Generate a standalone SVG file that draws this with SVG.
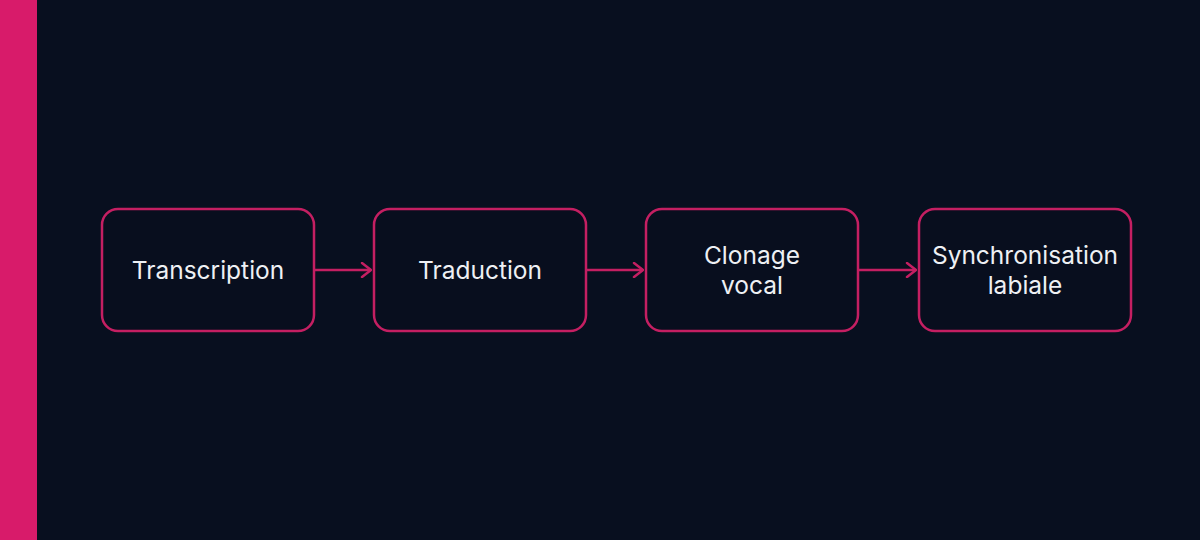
<svg xmlns="http://www.w3.org/2000/svg" width="1200" height="540" viewBox="0 0 1200 540">
<defs>
<style>
.box{fill:#080e1e;stroke:#c41f62;stroke-width:2.5}
.lbl{font-family:Inter,"Noto Sans","Liberation Sans",sans-serif;font-size:24.5px;fill:#eef0f4;text-anchor:middle}
.conn{stroke:#c41f62;stroke-width:2.5;fill:none}
</style>
<marker id="arr" viewBox="0 0 12 16" refX="11" refY="8" markerWidth="12" markerHeight="16" markerUnits="userSpaceOnUse" orient="auto">
<path d="M2,1 L11,8 L2,15" fill="none" stroke="#c41f62" stroke-width="2.5" stroke-linecap="round" stroke-linejoin="round"/>
</marker>
</defs>
<rect width="1200" height="540" fill="#080f1f"/>
<rect x="0" y="0" width="37" height="540" fill="#d81b6a"/>
<g id="connectors">
<line class="conn" x1="314" y1="270" x2="371" y2="270" marker-end="url(#arr)"/>
<line class="conn" x1="586" y1="270" x2="643" y2="270" marker-end="url(#arr)"/>
<line class="conn" x1="858" y1="270" x2="916" y2="270" marker-end="url(#arr)"/>
</g>
<g id="n1">
<rect class="box" x="102" y="209" width="212" height="122" rx="16"/>
<text class="lbl" x="208" y="279">Transcription</text>
</g>
<g id="n2">
<rect class="box" x="374" y="209" width="212" height="122" rx="16"/>
<text class="lbl" x="480" y="279">Traduction</text>
</g>
<g id="n3">
<rect class="box" x="646" y="209" width="212" height="122" rx="16"/>
<text class="lbl" x="752" y="264">Clonage</text>
<text class="lbl" x="752" y="294">vocal</text>
</g>
<g id="n4">
<rect class="box" x="919" y="209" width="212" height="122" rx="16"/>
<text class="lbl" x="1025" y="264">Synchronisation</text>
<text class="lbl" x="1025" y="294">labiale</text>
</g>
</svg>
